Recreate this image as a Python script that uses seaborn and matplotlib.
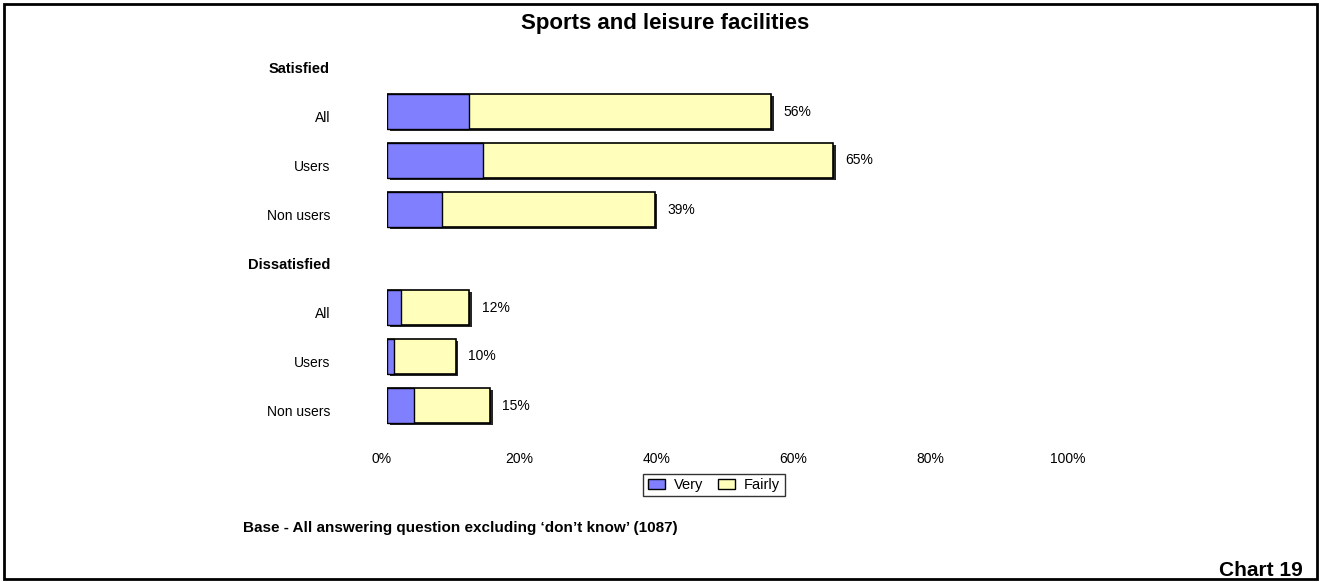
import matplotlib
matplotlib.use("Agg")
import matplotlib.pyplot as plt
import matplotlib.patheffects as pe
import matplotlib.transforms as mtransforms
from matplotlib.patches import Rectangle, Patch
import numpy as np
import pandas as pd
import seaborn as sns

# ---- data -------------------------------------------------------------
title = "Sports and leisure facilities"
groups = ["Satisfied", "Dissatisfied"]
segments = ["All", "Users", "Non users"]
very_satisfied = [12, 14, 8]
fairly_satisfied = [44, 51, 31]
very_dissatisfied = [2, 1, 4]
fairly_dissatisfied = [10, 9, 11]
x_ticks = [0, 20, 40, 60, 80, 100]
base_note = "Base - All answering question excluding \u2018don\u2019t know\u2019 (1087)"
chart_no = "Chart 19"

VERY_COLOR = "#8080FF"
FAIRLY_COLOR = "#FFFFBB"

sns.set_style("white")
plt.rcParams["font.family"] = ["Liberation Sans", "DejaVu Sans"]
plt.rcParams["text.color"] = "black"
plt.rcParams["xtick.color"] = "black"
plt.rcParams["ytick.color"] = "black"

# one row per header plus one per segment; headers carry no bar
rows, row_labels, records = [], [], []
for g, very, fairly in [(groups[0], very_satisfied, fairly_satisfied),
                        (groups[1], very_dissatisfied, fairly_dissatisfied)]:
    rows.append(f"{g}|hdr")
    row_labels.append(g)
    for seg, v, f in zip(segments, very, fairly):
        key = f"{g}|{seg}"
        rows.append(key)
        row_labels.append(seg)
        records.append({"row": key, "very": v, "fairly": f, "total": v + f})
df = pd.DataFrame(records)

W, H, DPI = 1322, 582, 100
fig = plt.figure(figsize=(W / DPI, H / DPI), dpi=DPI)
ax_left, ax_right = 387 / W, 1073 / W
ax_top, ax_bottom = 1 - 38 / H, 1 - 430 / H
ax = fig.add_axes([ax_left, ax_bottom, ax_right - ax_left, ax_top - ax_bottom])

# totals first (yellow with drop shadow), then the "very" share on top
sns.barplot(data=df, y="row", x="total", order=rows, orient="h",
            color=FAIRLY_COLOR, saturation=1, width=0.72,
            edgecolor="black", linewidth=1.2, ax=ax)
for p in list(ax.patches):
    p.set_path_effects([pe.SimplePatchShadow(offset=(2, -1.5), shadow_rgbFace="black", alpha=0.85),
                        pe.Normal()])
sns.barplot(data=df, y="row", x="very", order=rows, orient="h",
            color=VERY_COLOR, saturation=1, width=0.72,
            edgecolor="black", linewidth=1.0, ax=ax)

# value labels at the end of each stacked bar
ax.bar_label(ax.containers[0], labels=[f"{t}%" for t in df["total"]],
             padding=9, fontsize=10, color="black")

ax.set_xlim(0, 100)
ax.set_xticks(x_ticks)
ax.set_xticklabels([f"{t}%" for t in x_ticks], fontsize=10)
ax.set_yticks(range(len(rows)))
ax.set_yticklabels(row_labels, fontsize=10)
for lbl, r in zip(ax.get_yticklabels(), rows):
    if r.endswith("|hdr"):
        lbl.set_fontweight("bold")
        lbl.set_fontsize(10.5)
ax.set_xlabel("")
ax.set_ylabel("")
ax.tick_params(axis="both", length=0)
ax.tick_params(axis="y", pad=41)
ax.tick_params(axis="x", pad=16)
for s in ax.spines.values():
    s.set_visible(False)

# small nudges for the axis label text
shift_y = mtransforms.ScaledTranslation(0, -0.05, fig.dpi_scale_trans)
for lbl in ax.get_yticklabels():
    lbl.set_transform(lbl.get_transform() + shift_y)
shift_x = mtransforms.ScaledTranslation(-0.05, 0, fig.dpi_scale_trans)
for lbl in ax.get_xticklabels():
    lbl.set_transform(lbl.get_transform() + shift_x)

# legend
handles = [Patch(facecolor=VERY_COLOR, edgecolor="black", linewidth=1, label="Very"),
           Patch(facecolor=FAIRLY_COLOR, edgecolor="black", linewidth=1, label="Fairly")]
leg = fig.legend(handles=handles, loc="center", bbox_to_anchor=(714 / W, 1 - 485 / H),
                 ncol=2, fontsize=10.5, frameon=True, fancybox=False,
                 handlelength=1.2, handleheight=0.7, handletextpad=0.6,
                 columnspacing=1.0, borderpad=0.3, borderaxespad=0)
leg.get_frame().set_edgecolor("black")
leg.get_frame().set_linewidth(1)

# title, footnote, chart number and outer frame
fig.text(665 / W, 1 - 24 / H, title, ha="center", va="center",
         fontsize=16, fontweight="bold")
fig.text(243 / W, 1 - 528 / H, base_note, ha="left", va="center",
         fontsize=11, fontweight="bold")
fig.text(1303 / W, 1 - 570 / H, chart_no, ha="right", va="center",
         fontsize=15, fontweight="bold")
fig.patches.append(Rectangle((4 / W, 3 / H), 1313 / W, 575 / H, transform=fig.transFigure,
                             fill=False, edgecolor="black", linewidth=2))

fig.savefig("out.png", dpi=DPI)
